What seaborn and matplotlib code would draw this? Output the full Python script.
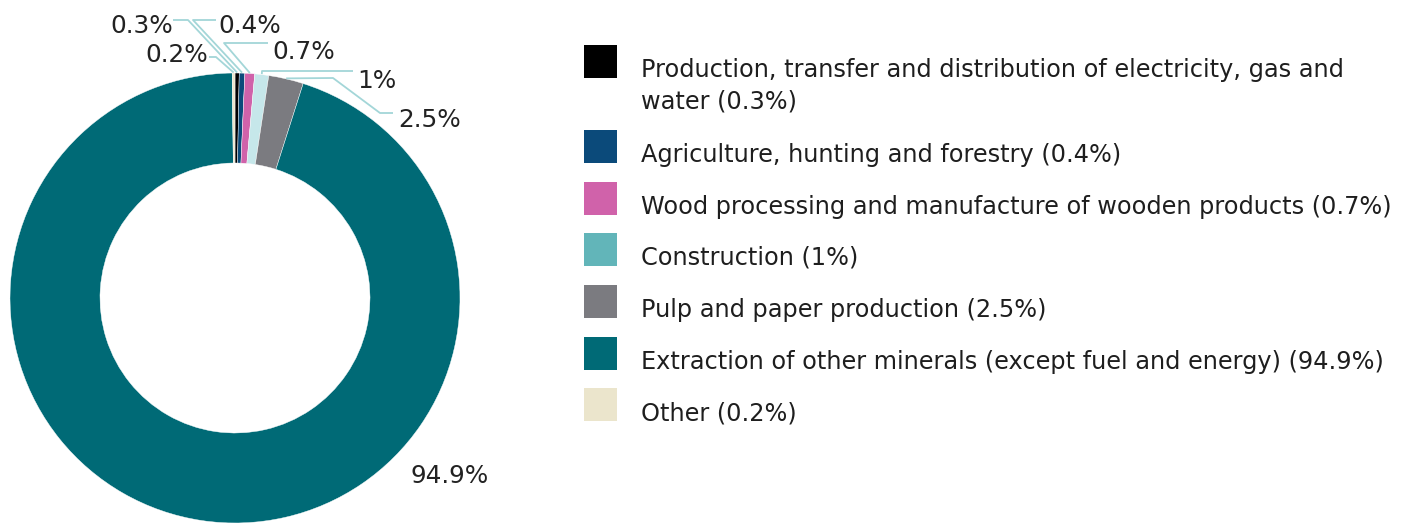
import matplotlib
matplotlib.use("Agg")
import matplotlib.pyplot as plt
import seaborn as sns
import numpy as np
from matplotlib.patches import Rectangle

# Sector shares of the total (percent), clockwise from 12 o'clock
sectors = [
    "Production, transfer and distribution of electricity, gas and\nwater",
    "Agriculture, hunting and forestry",
    "Wood processing and manufacture of wooden products",
    "Construction",
    "Pulp and paper production",
    "Extraction of other minerals (except fuel and energy)",
    "Other",
]
shares = [0.3, 0.4, 0.7, 1, 2.5, 94.9, 0.2]

legend_colors = ["#000000", "#0b4a7a", "#d062aa", "#62b5b9", "#7b7b80", "#006a76", "#ebe5cc"]
wedge_colors = ["#000000", "#0b4a7a", "#d062aa", "#c6e7ea", "#7b7b80", "#006a76", "#ebe5cc"]

sns.set_theme(style="white")
plt.rcParams["font.family"] = ["DejaVu Sans"]

W, H = 1415, 526
fig = plt.figure(figsize=(W / 100, H / 100), dpi=100)
ax = fig.add_axes([0, 0, 1, 1])


def Y(y):
    """Convert a top-origin pixel row to the axes' bottom-origin scale."""
    return H - y


# Donut
cx, cy, R = 235, Y(298), 225
ax.pie(
    shares,
    colors=wedge_colors,
    startangle=90,
    counterclock=False,
    radius=R,
    center=(cx, cy),
    wedgeprops=dict(width=R * 0.4, edgecolor="white", linewidth=0.3),
)
ax.set_xlim(0, W)
ax.set_ylim(0, H)
ax.set_aspect("equal")
ax.axis("off")

# Anchor of each slice on the outer rim (mid-angle)
vals = np.array(shares, dtype=float)
mids = np.cumsum(vals) - vals / 2
theta = np.deg2rad(90 - 360 * mids / vals.sum())
anchors = [(cx + R * np.cos(t), cy + R * np.sin(t)) for t in theta]

label_text = [f"{v:g}%" for v in shares]

# label placement: (x, y_top, ha, leader elbow points in top-origin pixels)
placements = [
    (142, 26, "center", [(173, 20), (188, 20)]),
    (218, 26, "left", [(216, 20), (193, 20)]),
    (272, 52, "left", [(268, 43), (224, 43)]),
    (357, 81, "left", [(353, 71), (262, 71)]),
    (398, 120, "left", [(393, 113), (380, 113), (333, 78)]),
    (450, 476, "center", None),
    (208, 55, "right", [(209, 57), (216, 57)]),
]

leader_color = "#a3d6d8"
for (x, yt, ha, elbow), txt, anc in zip(placements, label_text, anchors):
    if elbow is not None:
        xs = [p[0] for p in elbow] + [anc[0]]
        ys = [Y(p[1]) for p in elbow] + [anc[1] + 0.5]
        ax.plot(xs, ys, color=leader_color, lw=1.3, solid_capstyle="butt", zorder=1)
    ax.text(x, Y(yt), txt, ha=ha, va="center", fontsize=17.8, color="#222222")

# Legend
sq = 33
sq_x = 584
sq_tops = [45, 130, 182, 233, 285, 337, 388]
txt_x = 641
for name, v, col, top in zip(sectors, shares, legend_colors, sq_tops):
    ax.add_patch(Rectangle((sq_x, Y(top + sq)), sq, sq, facecolor=col, edgecolor="none"))
    lines = f"{name} ({v:g}%)".split("\n")
    base = top + sq - 1
    for i, line in enumerate(lines):
        ax.text(txt_x, Y(base + 31 * i), line, ha="left", va="baseline",
                fontsize=17.3, color="#1e1e1e")

fig.savefig("out.png", dpi=100, facecolor="white")
